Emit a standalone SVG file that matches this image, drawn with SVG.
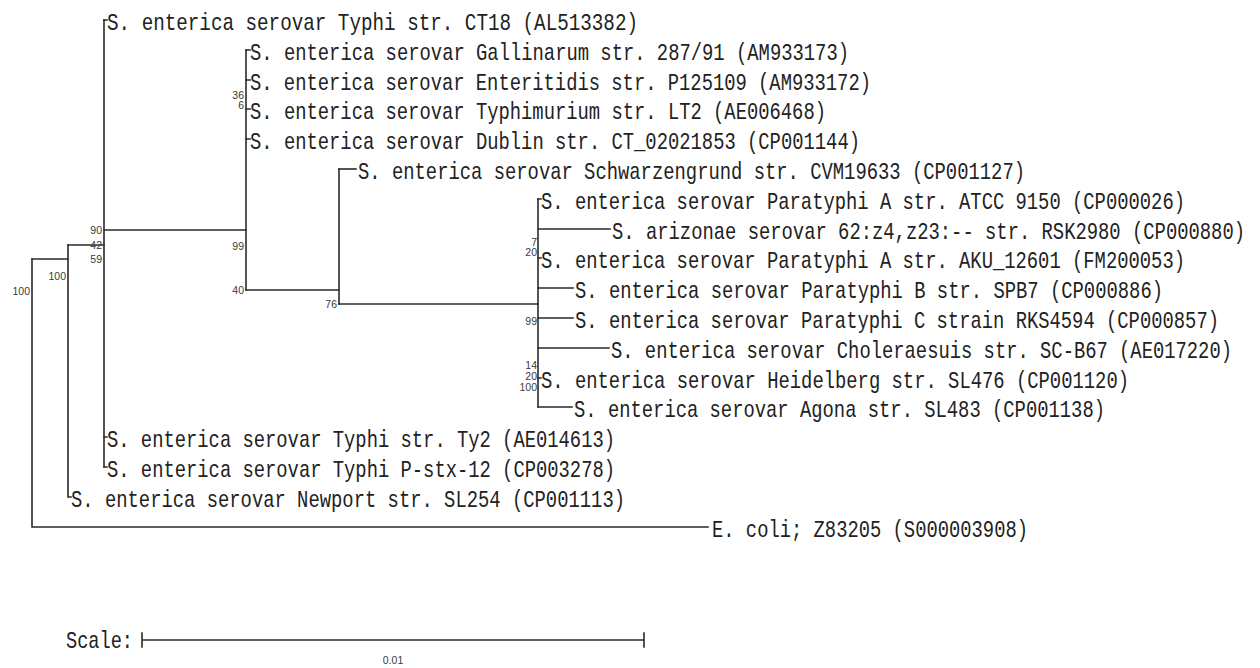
<svg xmlns="http://www.w3.org/2000/svg" width="1260" height="668" viewBox="0 0 1260 668">
<style>
.br{stroke:#2a2a2a;stroke-width:1.6;fill:none;stroke-linecap:square}
.lf{font-family:"Liberation Mono","DejaVu Sans Mono",monospace;font-size:24px;fill:#222}
.bs{font-family:"Liberation Sans","DejaVu Sans",sans-serif;font-size:10.5px;fill:#3a3a3a;text-anchor:end}
</style>
<rect width="1260" height="668" fill="#fff"/>
<g id="connectors" class="br">
<path d="M32,259V527H708"/>
<path d="M32,259H68"/>
<path d="M68,245V497H71"/>
<path d="M68,245H104"/>
<path d="M104,20V467"/>
<path d="M104,20H107M104,437H107M104,467H107"/>
<path d="M104,230H246"/>
<path d="M246,50V290"/>
<path d="M246,50H250M246,80H250M246,109H250M246,139H250"/>
<path d="M246,290H339"/>
<path d="M339,169V304"/>
<path d="M339,169H356"/>
<path d="M339,304H538"/>
<path d="M538,199V407"/>
<path d="M538,199H541M538,258H541M538,378H541"/>
<path d="M538,229H610M538,288H573M538,318H573M538,348H609M538,407H572"/>
</g>
<g id="leaf-ct18"><text class="lf" x="107" y="30" textLength="531" lengthAdjust="spacingAndGlyphs">S. enterica serovar Typhi str. CT18 (AL513382)</text></g>
<g id="leaf-gallinarum"><text class="lf" x="250" y="60" textLength="599" lengthAdjust="spacingAndGlyphs">S. enterica serovar Gallinarum str. 287/91 (AM933173)</text></g>
<g id="leaf-enteritidis"><text class="lf" x="250" y="90" textLength="621" lengthAdjust="spacingAndGlyphs">S. enterica serovar Enteritidis str. P125109 (AM933172)</text></g>
<g id="leaf-typhimurium"><text class="lf" x="250" y="119" textLength="576" lengthAdjust="spacingAndGlyphs">S. enterica serovar Typhimurium str. LT2 (AE006468)</text></g>
<g id="leaf-dublin"><text class="lf" x="250" y="149" textLength="610" lengthAdjust="spacingAndGlyphs">S. enterica serovar Dublin str. CT_02021853 (CP001144)</text></g>
<g id="leaf-schwarzengrund"><text class="lf" x="358" y="179" textLength="667" lengthAdjust="spacingAndGlyphs">S. enterica serovar Schwarzengrund str. CVM19633 (CP001127)</text></g>
<g id="leaf-paratyphiA-atcc"><text class="lf" x="541" y="209" textLength="644" lengthAdjust="spacingAndGlyphs">S. enterica serovar Paratyphi A str. ATCC 9150 (CP000026)</text></g>
<g id="leaf-arizonae"><text class="lf" x="612" y="239" textLength="633" lengthAdjust="spacingAndGlyphs">S. arizonae serovar 62:z4,z23:-- str. RSK2980 (CP000880)</text></g>
<g id="leaf-paratyphiA-aku"><text class="lf" x="541" y="268" textLength="644" lengthAdjust="spacingAndGlyphs">S. enterica serovar Paratyphi A str. AKU_12601 (FM200053)</text></g>
<g id="leaf-paratyphiB"><text class="lf" x="575" y="298" textLength="588" lengthAdjust="spacingAndGlyphs">S. enterica serovar Paratyphi B str. SPB7 (CP000886)</text></g>
<g id="leaf-paratyphiC"><text class="lf" x="575" y="328" textLength="644" lengthAdjust="spacingAndGlyphs">S. enterica serovar Paratyphi C strain RKS4594 (CP000857)</text></g>
<g id="leaf-choleraesuis"><text class="lf" x="611" y="358" textLength="621" lengthAdjust="spacingAndGlyphs">S. enterica serovar Choleraesuis str. SC-B67 (AE017220)</text></g>
<g id="leaf-heidelberg"><text class="lf" x="541" y="388" textLength="588" lengthAdjust="spacingAndGlyphs">S. enterica serovar Heidelberg str. SL476 (CP001120)</text></g>
<g id="leaf-agona"><text class="lf" x="574" y="417" textLength="531" lengthAdjust="spacingAndGlyphs">S. enterica serovar Agona str. SL483 (CP001138)</text></g>
<g id="leaf-ty2"><text class="lf" x="107" y="447" textLength="508" lengthAdjust="spacingAndGlyphs">S. enterica serovar Typhi str. Ty2 (AE014613)</text></g>
<g id="leaf-pstx12"><text class="lf" x="107" y="477" textLength="508" lengthAdjust="spacingAndGlyphs">S. enterica serovar Typhi P-stx-12 (CP003278)</text></g>
<g id="leaf-newport"><text class="lf" x="71" y="507" textLength="554" lengthAdjust="spacingAndGlyphs">S. enterica serovar Newport str. SL254 (CP001113)</text></g>
<g id="leaf-ecoli"><text class="lf" x="712" y="537" textLength="316" lengthAdjust="spacingAndGlyphs">E. coli; Z83205 (S000003908)</text></g>
<g id="node-root"><text class="bs" x="30" y="295">100</text></g>
<g id="node-68"><text class="bs" x="66" y="280">100</text></g>
<g id="node-104"><text class="bs" x="102" y="234">90</text><text class="bs" x="102" y="249">42</text><text class="bs" x="102" y="263">59</text></g>
<g id="node-246"><text class="bs" x="244" y="99">36</text><text class="bs" x="244" y="109">6</text><text class="bs" x="244" y="250">99</text><text class="bs" x="244" y="294">40</text></g>
<g id="node-339"><text class="bs" x="337" y="308">76</text></g>
<g id="node-538"><text class="bs" x="537" y="246">7</text><text class="bs" x="537" y="256">20</text><text class="bs" x="537" y="325">99</text><text class="bs" x="537" y="369">14</text><text class="bs" x="537" y="380">20</text><text class="bs" x="537" y="391">100</text></g>
<g id="scale">
<text class="lf" x="66" y="648" textLength="67" lengthAdjust="spacingAndGlyphs">Scale:</text>
<path class="br" d="M142,640H644M142,633V647M644,633V647"/>
<text class="bs" x="393" y="664" style="text-anchor:middle">0.01</text>
</g>
</svg>
